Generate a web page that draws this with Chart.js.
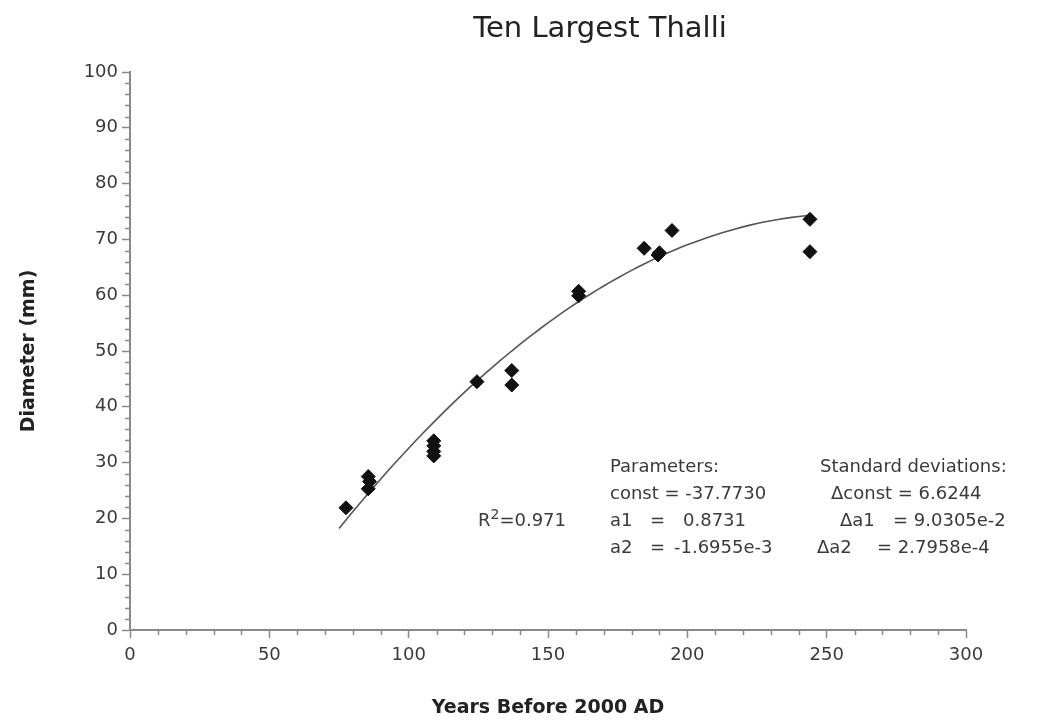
<!DOCTYPE html>
<html>
<head>
<meta charset="utf-8">
<title>Ten Largest Thalli</title>
<script src="https://cdn.jsdelivr.net/npm/chart.js@4.4.1/dist/chart.umd.min.js"></script>
<style>
  html, body { margin: 0; padding: 0; background: #fff; }
  #wrap { width: 1042px; height: 722px; }
</style>
</head>
<body>
<div id="wrap"><canvas id="myChart" width="1042" height="722"></canvas></div>
<script>
// measured thalli: age (years before 2000 AD) and diameter (mm)
const yearsBP   = [77.5, 85.5, 86, 85.5, 109, 109, 109, 109, 124.5, 137, 137, 161, 161, 184.5, 190, 189.5, 194.5, 244, 244];
const diameters = [21.9, 27.5, 26.6, 25.3, 33.9, 33.0, 32.0, 31.2, 44.5, 46.5, 43.9, 60.7, 59.9, 68.4, 67.6, 67.2, 71.6, 73.6, 67.8];

// quadratic fit: const, a1, a2 and their standard deviations
const fitParams = [-37.7730, 0.8731, -1.6955e-3];
const fitErrors = ['6.6244', '9.0305e-2', '2.7958e-4'];
const rSquared = '0.971';
const fitRange = [75, 245];

const xTicks = [0, 50, 100, 150, 200, 250, 300];
const yTicks = [0, 10, 20, 30, 40, 50, 60, 70, 80, 90, 100];

// fitted curve sampled across the dated range
const fitCurve = [];
for (let x = fitRange[0]; x <= fitRange[1]; x += 2.5) {
    fitCurve.push({x: x, y: fitParams[0] + fitParams[1] * x + fitParams[2] * x * x});
}

const points = yearsBP.map((x, i) => ({x: x, y: diameters[i]}));

const FONT = '"DejaVu Sans", Verdana, sans-serif';
const AXIS_GRAY = '#8a8a8a';
const TEXT_GRAY = '#3a3a3a';

// minor ticks, title and fit annotation
const extras = {
    id: 'extras',
    afterDraw(chart) {
        const ctx = chart.ctx;
        const xs = chart.scales.x, ys = chart.scales.y;
        ctx.save();
        ctx.strokeStyle = AXIS_GRAY;
        ctx.lineWidth = 1.5;
        for (let v = 0; v <= 100; v += 2) {
            if (v % 10 === 0) continue;
            const py = Math.round(ys.getPixelForValue(v)) + 0.5;
            ctx.beginPath();
            ctx.moveTo(xs.left - 5, py);
            ctx.lineTo(xs.left, py);
            ctx.stroke();
        }
        for (let v = 0; v <= 300; v += 10) {
            if (v % 50 === 0) continue;
            const px = Math.round(xs.getPixelForValue(v)) + 0.5;
            ctx.beginPath();
            ctx.moveTo(px, ys.bottom);
            ctx.lineTo(px, ys.bottom + 5);
            ctx.stroke();
        }

        ctx.fillStyle = '#222';
        ctx.font = '29px ' + FONT;
        ctx.textAlign = 'center';
        ctx.textBaseline = 'middle';
        ctx.fillText('Ten Largest Thalli', 600, 29);

        ctx.fillStyle = TEXT_GRAY;
        ctx.font = '18px ' + FONT;
        ctx.textAlign = 'left';
        const rows = [467, 494, 521, 548];

        // R squared with superscript
        let rx = 478;
        ctx.fillText('R', rx, rows[2]);
        rx += ctx.measureText('R').width;
        ctx.font = '14px ' + FONT;
        ctx.fillText('2', rx, rows[2] - 6);
        rx += ctx.measureText('2').width;
        ctx.font = '18px ' + FONT;
        ctx.fillText('=' + rSquared, rx, rows[2]);

        ctx.fillText('Parameters:', 610, rows[0]);
        ctx.fillText('const = ' + fitParams[0].toFixed(4), 610, rows[1]);
        ctx.fillText('a1', 610, rows[2]);
        ctx.fillText('=', 650, rows[2]);
        ctx.fillText(fitParams[1].toFixed(4), 683, rows[2]);
        ctx.fillText('a2', 610, rows[3]);
        ctx.fillText('=', 650, rows[3]);
        ctx.fillText(fitParams[2].toExponential(4), 674, rows[3]);

        ctx.fillText('Standard deviations:', 820, rows[0]);
        ctx.fillText('\u0394const = ' + fitErrors[0], 831, rows[1]);
        ctx.fillText('\u0394a1', 840, rows[2]);
        ctx.fillText('= ' + fitErrors[1], 893, rows[2]);
        ctx.fillText('\u0394a2', 817, rows[3]);
        ctx.fillText('= ' + fitErrors[2], 877, rows[3]);
        ctx.restore();
    }
};

new Chart(document.getElementById('myChart'), {
    type: 'scatter',
    data: {
        datasets: [{
            label: 'fit',
            data: fitCurve,
            showLine: true,
            borderColor: '#555',
            borderWidth: 1.6,
            pointRadius: 0,
            tension: 0,
            order: 2
        },
        {
            label: 'thalli',
            data: points,
            pointStyle: 'rectRot',
            pointRadius: 7,
            backgroundColor: '#111',
            borderColor: '#111',
            borderWidth: 1,
            order: 1
        }]
    },
    options: {
        responsive: false,
        animation: false,
        layout: { padding: { top: 72, right: 76, left: 0, bottom: 0 } },
        plugins: {
            legend: { display: false },
            tooltip: { enabled: false }
        },
        scales: {
            x: {
                type: 'linear',
                min: 0,
                max: 300,
                afterBuildTicks: (s) => { s.ticks = xTicks.map(v => ({value: v})); },
                afterFit: (s) => { s.height = 92; },
                ticks: {
                    color: TEXT_GRAY,
                    font: { family: FONT, size: 18 },
                    padding: 7
                },
                grid: {
                    drawOnChartArea: false,
                    tickLength: 8,
                    tickWidth: 1.5,
                    tickColor: AXIS_GRAY
                },
                border: { color: AXIS_GRAY, width: 2 },
                title: {
                    display: true,
                    text: 'Years Before 2000 AD',
                    color: '#222',
                    font: { family: FONT, size: 19, weight: 'bold' },
                    padding: { bottom: 3 }
                }
            },
            y: {
                type: 'linear',
                min: 0,
                max: 100,
                afterBuildTicks: (s) => { s.ticks = yTicks.map(v => ({value: v})); },
                afterFit: (s) => { s.width = 130; },
                ticks: {
                    color: TEXT_GRAY,
                    font: { family: FONT, size: 18 },
                    padding: 4
                },
                grid: {
                    drawOnChartArea: false,
                    tickLength: 8,
                    tickWidth: 1.5,
                    tickColor: AXIS_GRAY
                },
                border: { color: AXIS_GRAY, width: 2 },
                title: {
                    display: true,
                    text: 'Diameter (mm)',
                    color: '#222',
                    font: { family: FONT, size: 19, weight: 'bold' },
                    padding: { top: 18 }
                }
            }
        }
    },
    plugins: [extras]
});
</script>
</body>
</html>
